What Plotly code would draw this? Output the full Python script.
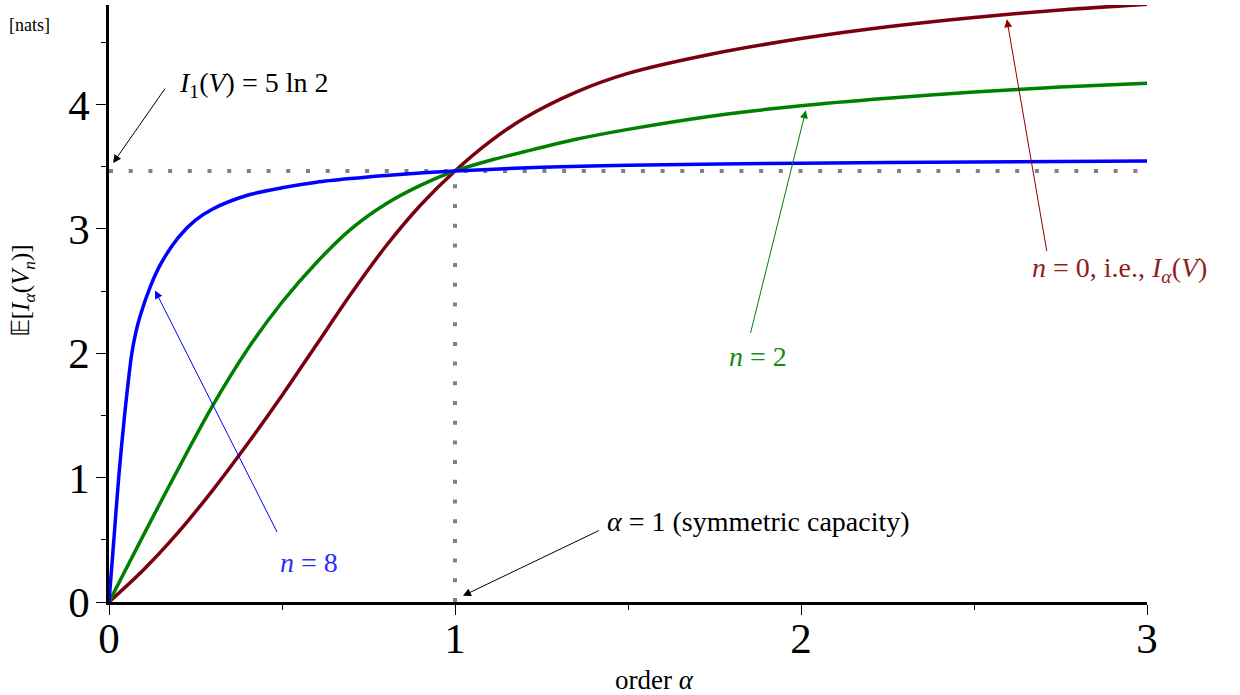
import numpy as np
import plotly.graph_objects as go

# values
alpha_n8 = [0, 0.014, 0.028, 0.045, 0.066, 0.077, 0.09, 0.12, 0.15, 0.2, 0.25, 0.3, 0.4, 0.5, 0.6, 0.7, 0.8, 1.0, 1.25, 1.5, 2.0, 2.5, 3.0]
info_n8 = [0, 0.5, 1.0, 1.5, 2.0, 2.16, 2.3, 2.54, 2.72, 2.93, 3.07, 3.16, 3.27, 3.33, 3.375, 3.405, 3.43, 3.466, 3.495, 3.512, 3.528, 3.538, 3.545]

alpha_n2 = [0, 0.1, 0.2, 0.3, 0.4, 0.5, 0.6, 0.7, 0.8, 0.9, 1.0, 1.1, 1.2, 1.35, 1.5, 1.75, 2.0, 2.25, 2.5, 2.75, 3.0]
info_n2 = [0, 0.54, 1.07, 1.58, 2.03, 2.41, 2.73, 3.0, 3.2, 3.35, 3.466, 3.55, 3.62, 3.72, 3.80, 3.91, 3.99, 4.05, 4.10, 4.14, 4.17]

alpha_n0 = [0, 0.1, 0.2, 0.3, 0.4, 0.5, 0.6, 0.7, 0.8, 0.9, 1.0, 1.1, 1.2, 1.35, 1.5, 1.75, 2.0, 2.25, 2.5, 2.75, 3.0]
info_n0 = [0, 0.26, 0.56, 0.90, 1.27, 1.66, 2.07, 2.48, 2.86, 3.19, 3.466, 3.70, 3.89, 4.10, 4.25, 4.41, 4.53, 4.625, 4.70, 4.76, 4.807]

cap = 5 * np.log(2)   # I_1(V) = 5 ln 2

serif = "Liberation Serif"
dots = "4px,15.7px"

fig = go.Figure()

# dotted guides
fig.add_trace(go.Scatter(x=[0, 3], y=[cap, cap], mode="lines",
                         line=dict(color="#808080", width=4, dash=dots), hoverinfo="skip"))
fig.add_trace(go.Scatter(x=[1, 1], y=[0, cap], mode="lines",
                         line=dict(color="#808080", width=4, dash=dots), hoverinfo="skip"))

# curves
for xs, ys, col in [(alpha_n0, info_n0, "#7a0010"), (alpha_n2, info_n2, "#008000"), (alpha_n8, info_n8, "#0000ff")]:
    fig.add_trace(go.Scatter(x=xs, y=ys, mode="lines",
                             line=dict(color=col, width=3.5, shape="spline", smoothing=0.8)))

# arrows (tip x,y ; tail ax,ay in data units)
arrows = [
    (0.012, 3.53, 0.165, 4.14, "black"),
    (1.023, 0.05, 1.42, 0.58, "black"),
    (0.133, 2.505, 0.488, 0.55, "#0000ff"),
    (2.014, 3.953, 1.853, 2.15, "#008000"),
    (2.595, 4.685, 2.711, 2.81, "#8b0000"),
]
for x, y, ax, ay, c in arrows:
    fig.add_annotation(x=x, y=y, ax=ax, ay=ay, xref="x", yref="y", axref="x", ayref="y",
                       text="", showarrow=True, arrowhead=2, arrowsize=1.6, arrowwidth=1,
                       arrowcolor=c, standoff=0, startstandoff=0)

# labels
labels = [
    (0.197, 4.16, "<i>I</i><sub>1</sub>(<i>V</i>) = 5 ln 2", "black"),
    (1.434, 0.65, "<i>α</i> = 1 (symmetric capacity)", "black"),
    (0.488, 0.32, "<i>n</i> = 8", "#2b2bff"),
    (1.786, 1.97, "<i>n</i> = 2", "#138a13"),
    (2.662, 2.67, "<i>n</i> = 0, i.e., <i>I</i><sub><i>α</i></sub>(<i>V</i>)", "#921c1c"),
]
for x, y, t, c in labels:
    fig.add_annotation(x=x, y=y, xref="x", yref="y", text=t, showarrow=False,
                       xanchor="left", yanchor="middle", font=dict(family=serif, size=28, color=c))

fig.add_annotation(x=-0.083, y=0.522, xref="paper", yref="paper", textangle=-90,
                   xanchor="center", yanchor="middle",
                   text="𝔼[<i>I</i><sub><i>α</i></sub>(<i>V</i><sub><i>n</i></sub>)]",
                   showarrow=False, font=dict(family=serif, size=25, color="black"))
fig.add_annotation(x=-0.077, y=0.966, xref="paper", yref="paper", text="[nats]",
                   xanchor="center", yanchor="middle",
                   showarrow=False, font=dict(family=serif, size=18, color="black"))
fig.add_annotation(x=1.578, y=-0.131, xref="x", yref="paper", text="order <i>α</i>",
                   xanchor="center", yanchor="middle",
                   showarrow=False, font=dict(family=serif, size=27, color="black"))

axis_common = dict(showgrid=False, zeroline=False, showline=True, linecolor="black", linewidth=2.5,
                   ticks="outside", ticklen=10, tickwidth=1, tickcolor="black",
                   tickfont=dict(family=serif, size=43, color="black"),
                   minor=dict(ticks="outside", ticklen=5, tickwidth=1, tickcolor="black", dtick=0.5))

fig.update_xaxes(range=[0, 3], tickvals=[0, 1, 2, 3], ticklabelstandoff=-13, **axis_common)
fig.update_yaxes(range=[0, 4.8], tickvals=[0, 1, 2, 3, 4], ticklabelstandoff=-2, **axis_common)

fig.update_layout(
    width=1240, height=695,
    margin=dict(l=109, r=93, t=5, b=93),
    plot_bgcolor="white", paper_bgcolor="white",
    showlegend=False,
    font=dict(family=serif),
)

fig.write_html("out.html", config={"displayModeBar": False},
               post_script="document.body.style.margin='0';")
